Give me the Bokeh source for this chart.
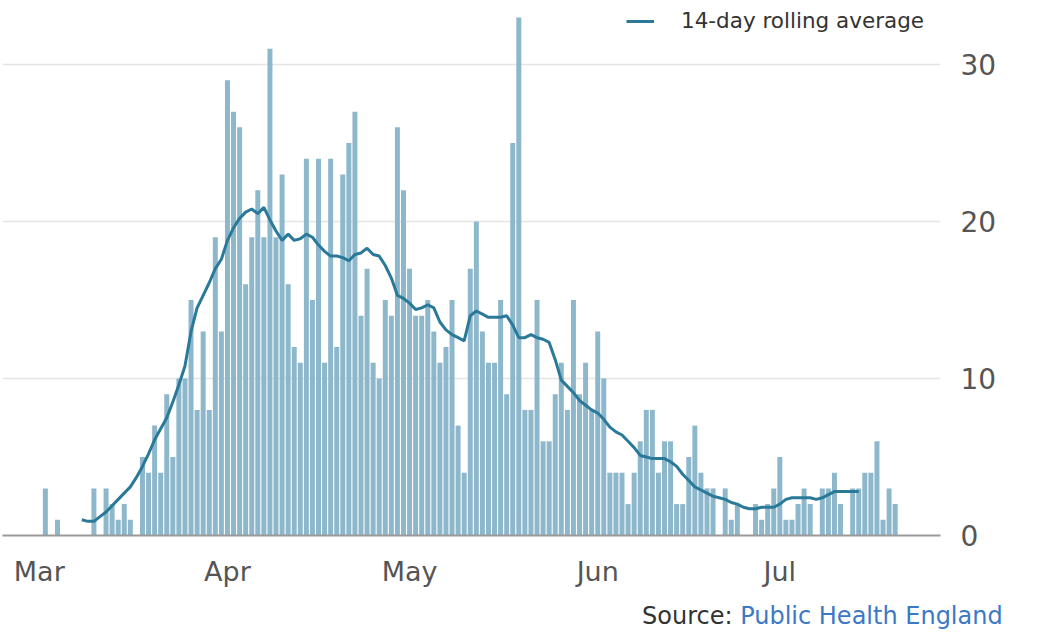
import pandas as pd
from bokeh.plotting import figure
from bokeh.layouts import column
from bokeh.models import (Range1d, FixedTicker, MonthsTicker, DatetimeTickFormatter,
                          Legend, LegendItem, ColumnDataSource, Div)
from bokeh.embed import file_html
from bokeh.resources import INLINE

# ---- data ----
start_date = "2020-03-01"
daily_counts = [
    0, 3, 0, 1, 0, 0, 0, 0, 0, 3,
    0, 3, 2, 1, 2, 1, 0, 5, 4, 7,
    4, 9, 5, 10, 10, 15, 8, 13, 8, 19,
    13, 29, 27, 26, 16, 19, 22, 19, 31, 19,
    23, 16, 12, 11, 24, 15, 24, 11, 24, 12,
    23, 25, 27, 14, 17, 11, 10, 15, 14, 26,
    22, 17, 14, 14, 15, 13, 11, 12, 15, 7,
    4, 17, 20, 13, 11, 11, 15, 9, 25, 33,
    8, 8, 15, 6, 6, 9, 11, 8, 15, 9,
    11, 8, 13, 10, 4, 4, 4, 2, 4, 6,
    8, 8, 4, 6, 6, 2, 2, 5, 7, 4,
    3, 3, 0, 3, 1, 2, 0, 0, 2, 1,
    2, 3, 5, 1, 1, 2, 3, 2, 0, 3,
    3, 4, 2, 0, 3, 3, 4, 4, 6, 1, 3, 2,
]
avg_start_date = "2020-03-08"
rolling_avg = [
    1.0, 0.9, 0.9, 1.2, 1.5, 1.9, 2.3, 2.7, 3.1, 3.7,
    4.4, 5.2, 6.1, 6.8, 7.5, 8.5, 9.6, 10.8, 13.0, 14.5,
    15.3, 16.1, 17.0, 17.6, 18.8, 19.6, 20.2, 20.6, 20.8, 20.5,
    20.9, 20.1, 19.4, 18.8, 19.2, 18.8, 18.9, 19.2, 19.0, 18.5,
    18.1, 17.8, 17.8, 17.7, 17.5, 17.9, 18.0, 18.3, 17.9, 17.8,
    17.2, 16.4, 15.3, 15.1, 14.8, 14.4, 14.5, 14.7, 14.5, 13.6,
    13.1, 12.8, 12.6, 12.4, 14.0, 14.3, 14.1, 13.9, 13.9, 13.9,
    14.0, 13.4, 12.6, 12.6, 12.8, 12.6, 12.5, 12.3, 11.2, 9.9,
    9.5, 9.1, 8.6, 8.3, 8.0, 7.8, 7.4, 6.9, 6.6, 6.4,
    6.0, 5.6, 5.1, 5.0, 4.9, 4.9, 4.9, 4.7, 4.4, 3.9,
    3.5, 3.1, 2.9, 2.7, 2.5, 2.4, 2.3, 2.1, 2.0, 1.8,
    1.7, 1.7, 1.8, 1.8, 1.8, 2.0, 2.3, 2.4, 2.4, 2.4,
    2.4, 2.3, 2.4, 2.6, 2.8, 2.8, 2.8, 2.8, 2.8,
]
y_ticks = [0, 10, 20, 30]
legend_text = "14-day rolling average"
source_prefix = "Source:"
source_name = "Public Health England"

# ---- styling ----
BAR_COLOR = "#8db7cb"
LINE_COLOR = "#2b7999"
TEXT_GREY = "#555555"
FONT = "DejaVu Sans"

dates = pd.date_range(start_date, periods=len(daily_counts), freq="D")
avg_dates = pd.date_range(avg_start_date, periods=len(rolling_avg), freq="D")
bars = ColumnDataSource(dict(date=dates, count=daily_counts))
avg = ColumnDataSource(dict(date=avg_dates, avg=rolling_avg))

day_ms = 86400000
t0 = pd.Timestamp(start_date)
x_range = Range1d((t0 - pd.Timedelta(days=6.06)).to_pydatetime(),
                  (t0 + pd.Timedelta(days=148.47)).to_pydatetime())

p = figure(frame_width=938, frame_height=535, x_axis_type="datetime",
           y_axis_location="right", x_range=x_range, y_range=Range1d(0, 34.08),
           output_backend="svg", toolbar_location=None,
           min_border_left=2, min_border_right=90, min_border_top=0, min_border_bottom=69)
p.outline_line_color = None
p.background_fill_color = "white"

p.vbar(x="date", top="count", width=0.82 * day_ms, source=bars,
       fill_color=BAR_COLOR, line_color=None)
line_r = p.line(x="date", y="avg", source=avg, line_color=LINE_COLOR, line_width=3)

# x axis
xa = p.xaxis[0]
xa.ticker = MonthsTicker(months=list(range(12)))
xa.formatter = DatetimeTickFormatter(months="%b", days="%b", hours="%b")
xa.axis_line_color = "#9a9a9a"
xa.axis_line_width = 2
xa.major_tick_line_color = None
xa.minor_tick_line_color = None
xa.major_label_text_font = FONT
xa.major_label_text_font_size = "27px"
xa.major_label_text_color = TEXT_GREY
xa.major_label_standoff = 14

# y axis
ya = p.yaxis[0]
ya.ticker = FixedTicker(ticks=y_ticks)
ya.axis_line_color = None
ya.major_tick_line_color = None
ya.minor_tick_line_color = None
ya.major_label_text_font = FONT
ya.major_label_text_font_size = "28px"
ya.major_label_text_color = TEXT_GREY
ya.major_label_standoff = 14

p.xgrid.grid_line_color = None
p.ygrid.ticker = FixedTicker(ticks=y_ticks)
p.ygrid.grid_line_color = "#e4e4e4"
p.ygrid.grid_line_width = 1.5

legend = Legend(items=[LegendItem(label=legend_text, renderers=[line_r])],
                location=(624, 502), glyph_width=28, glyph_height=20,
                label_standoff=27, padding=0, margin=0, spacing=0,
                label_text_font=FONT, label_text_font_size="21.5px",
                label_text_color="#333333",
                background_fill_alpha=0, border_line_alpha=0)
p.add_layout(legend, "center")

# ---- footer with the source line ----
footer_html = (
    '<div style="position:absolute; left:642px; top:0px; white-space:nowrap; '
    "font-family:'DejaVu Sans'; font-size:24px; line-height:24px;\">"
    f'<span style="color:#333333">{source_prefix}</span> '
    f'<span style="color:#3b78c6">{source_name}</span></div>'
)
foot = Div(text=footer_html, width=1030, height=24, margin=0,
           styles={"position": "relative"})

layout = column(p, foot, spacing=0)
open("out.html", "w").write(file_html(layout, INLINE))
